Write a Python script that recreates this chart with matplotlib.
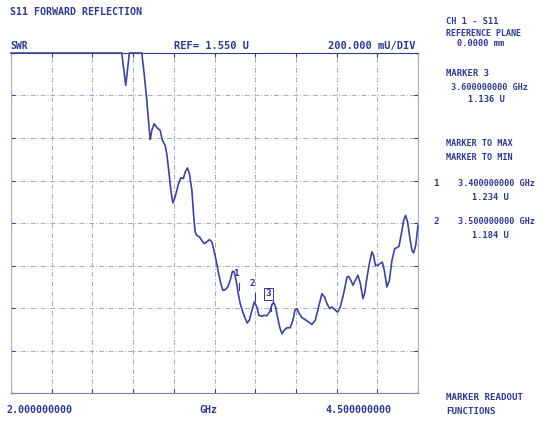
import matplotlib.pyplot as plt
import numpy as np

# trace (GHz, SWR in U)
freq = [2.000, 2.680, 2.705, 2.727, 2.803, 2.818, 2.834, 2.848, 2.855, 2.865,
        2.879, 2.896, 2.916, 2.930, 2.947, 2.957, 2.971, 2.982, 2.994, 3.008,
        3.029, 3.043, 3.059, 3.070, 3.084, 3.096, 3.111, 3.121, 3.131, 3.141,
        3.158, 3.172, 3.186, 3.203, 3.219, 3.234, 3.244, 3.260, 3.275, 3.289,
        3.301, 3.316, 3.332, 3.346, 3.361, 3.371, 3.383, 3.396, 3.408, 3.424,
        3.439, 3.451, 3.465, 3.480, 3.494, 3.510, 3.523, 3.537, 3.551, 3.572,
        3.588, 3.602, 3.613, 3.625, 3.637, 3.650, 3.664, 3.678, 3.695, 3.715,
        3.732, 3.744, 3.756, 3.773, 3.787, 3.807, 3.828, 3.848, 3.869, 3.889,
        3.910, 3.926, 3.941, 3.957, 3.971, 3.988, 4.006, 4.023, 4.043, 4.064,
        4.074, 4.088, 4.100, 4.115, 4.131, 4.146, 4.162, 4.172, 4.187, 4.203,
        4.217, 4.227, 4.238, 4.252, 4.268, 4.281, 4.293, 4.309, 4.324, 4.340,
        4.357, 4.371, 4.383, 4.398, 4.412, 4.424, 4.436, 4.449, 4.463, 4.473,
        4.486, 4.500]
swr = [2.350, 2.350, 2.198, 2.350, 2.350, 2.253, 2.127, 2.002, 1.942, 1.986,
       2.017, 1.999, 1.986, 1.939, 1.915, 1.876, 1.782, 1.704, 1.644, 1.672,
       1.735, 1.763, 1.759, 1.790, 1.809, 1.782, 1.704, 1.594, 1.508, 1.492,
       1.484, 1.468, 1.453, 1.461, 1.472, 1.461, 1.429, 1.374, 1.312, 1.265,
       1.233, 1.236, 1.249, 1.280, 1.323, 1.320, 1.280, 1.217, 1.170, 1.131,
       1.100, 1.079, 1.095, 1.139, 1.178, 1.155, 1.115, 1.111, 1.115, 1.114,
       1.131, 1.163, 1.178, 1.155, 1.108, 1.061, 1.029, 1.045, 1.057, 1.057,
       1.092, 1.139, 1.147, 1.120, 1.105, 1.095, 1.084, 1.073, 1.092, 1.155,
       1.217, 1.202, 1.170, 1.147, 1.155, 1.142, 1.131, 1.155, 1.217, 1.296,
       1.299, 1.280, 1.257, 1.280, 1.304, 1.265, 1.194, 1.217, 1.296, 1.366,
       1.414, 1.398, 1.351, 1.351, 1.359, 1.366, 1.327, 1.249, 1.280, 1.374,
       1.429, 1.434, 1.440, 1.500, 1.563, 1.586, 1.555, 1.484, 1.421, 1.409,
       1.445, 1.539]

marker_ids = ['1', '2', '3']
marker_freq = [3.4, 3.5, 3.6]
marker_val = [1.234, 1.184, 1.136]

ref = 1.550
per_div = 0.200
f_start, f_stop = 2.0, 4.5

ink = '#2e3a8e'
trace_col = '#3c4597'
grid_col = '#a6a9c8'
mono = 'DejaVu Sans Mono'

fig = plt.figure(figsize=(5.54, 4.21), dpi=100)
ax = fig.add_axes([11 / 554, 1 - 393 / 421, 407 / 554, 340 / 421])

ax.plot(freq, swr, color=trace_col, lw=1.2, solid_joinstyle='round', clip_on=False, zorder=5)

ax.set_xlim(f_start, f_stop)
ax.set_ylim(ref - 4 * per_div, ref + 4 * per_div)
ax.set_xticks(np.linspace(f_start, f_stop, 11))
ax.set_yticks(np.linspace(ref - 4 * per_div, ref + 4 * per_div, 9))
ax.grid(True, color=grid_col, lw=0.7, linestyle=(0, (5, 2, 1, 2)))
ax.tick_params(direction='in', length=3, color=ink, top=True, right=True,
               labelbottom=False, labelleft=False)
for s in ax.spines.values():
    s.set_color(grid_col)
    s.set_linewidth(0.8)
ax.spines['top'].set_color(ink)
ax.spines['bottom'].set_color('#7c82b8')

# marker labels on the trace
for i in range(len(marker_ids)):
    ax.plot([marker_freq[i], marker_freq[i]], [marker_val[i], marker_val[i] + 0.035],
            color=ink, lw=0.8)
    box = dict(boxstyle='square,pad=0.15', fc='none', ec=ink, lw=0.7) if marker_ids[i] == '3' else None
    ax.annotate(marker_ids[i], (marker_freq[i], marker_val[i]), xytext=(-2, 9),
                textcoords='offset points', ha='center', va='bottom',
                fontsize=6.8, fontweight='bold', family=mono, color=ink, bbox=box)


def txt(x, y, s, size=6.6, ha='left'):
    fig.text(x / 554, 1 - y / 421, s, fontsize=size, fontweight='bold',
             family=mono, color=ink, ha=ha, va='center')


txt(10, 12, 'S11 FORWARD REFLECTION', 7.2)
txt(10, 46, 'SWR', 7.0)
txt(174, 46, 'REF= 1.550 U', 7.5)
txt(416, 46, '200.000 mU/DIV', 7.5, ha='right')

txt(446, 22, 'CH 1 - S11', 6.2)
txt(446, 33, 'REFERENCE PLANE', 6.0)
txt(457, 44, '0.0000 mm', 6.2)
txt(446, 74, 'MARKER 3', 6.4)
txt(451, 87, '3.600000000 GHz', 6.1)
txt(468, 99, '1.136 U', 6.3)
txt(446, 144, 'MARKER TO MAX', 6.1)
txt(446, 157, 'MARKER TO MIN', 6.1)
txt(433, 183, '1', 6.6)
txt(458, 183, '3.400000000 GHz', 6.1)
txt(472, 198, '1.234 U', 6.3)
txt(433, 222, '2', 6.6)
txt(458, 222, '3.500000000 GHz', 6.1)
txt(472, 236, '1.184 U', 6.3)
txt(446, 397, 'MARKER READOUT', 6.6)
txt(446, 411, 'FUNCTIONS', 6.6)

txt(7, 410, '2.000000000', 7.2)
txt(199, 410, 'GHz', 7.2)
txt(326, 410, '4.500000000', 7.2)

fig.savefig('out.png', dpi=100, facecolor='white')
